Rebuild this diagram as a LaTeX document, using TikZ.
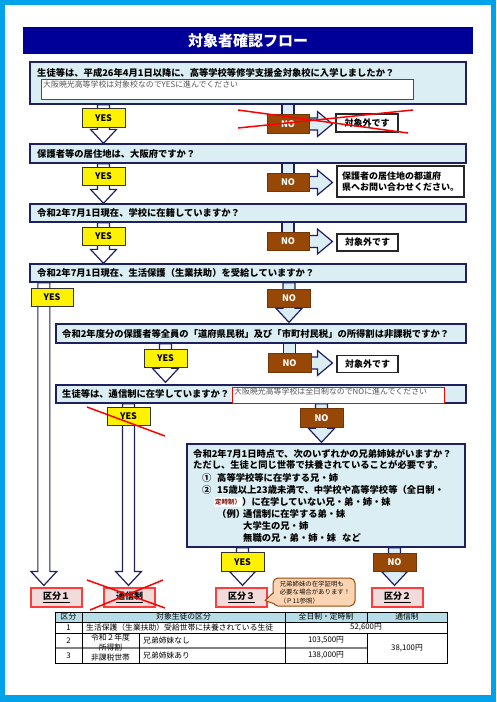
\documentclass[tikz,border=0pt]{standalone}
\usepackage{fontspec}
\setmainfont{Noto Sans CJK JP}
\usetikzlibrary{calc}
\definecolor{frameblue}{RGB}{0,162,232}
\definecolor{titleblue}{RGB}{0,0,153}
\definecolor{qfill}{RGB}{218,238,243}
\definecolor{navy}{RGB}{31,32,96}
\definecolor{nobrown}{RGB}{151,72,6}
\definecolor{kfill}{RGB}{242,220,219}
\definecolor{kred}{RGB}{255,60,60}
\definecolor{thfill}{RGB}{183,222,232}
\definecolor{callfill}{RGB}{251,212,180}
\definecolor{callline}{RGB}{152,72,6}
\definecolor{notegray}{RGB}{85,85,85}
\definecolor{smallred}{RGB}{130,40,30}
\pgfdeclarelayer{back}\pgfdeclarelayer{arrows}
\pgfsetlayers{back,arrows,main}
\newcommand\DownArr[3]{%
  \filldraw[blockarrow, fill=#3] let \p1=(#1), \p2=(#2) in
   (\x1-6pt,\y1) -- (\x1+6pt,\y1) -- (\x1+6pt,\y2+14pt) -- (\x1+13pt,\y2+14pt)
   -- (\x1,\y2) -- (\x1-13pt,\y2+14pt) -- (\x1-6pt,\y2+14pt) -- cycle;}
\newcommand\RightArr[2]{%
  \filldraw[blockarrow, fill=qfill] let \p1=(#1), \p2=(#2) in
   (\x1,\y1+6pt) -- (\x2-15pt,\y1+6pt) -- (\x2-15pt,\y1+12.5pt) -- (\x2,\y1)
   -- (\x2-15pt,\y1-12.5pt) -- (\x2-15pt,\y1-6pt) -- (\x1,\y1-6pt) -- cycle;}
\newcommand\Stub[2]{%
  \filldraw[blockarrow, fill=qfill] let \p1=(#1), \p2=(#2) in
   (\x1-6pt,\y1) rectangle (\x1+6pt,\y2);}
\begin{document}
\begin{tikzpicture}[x=1pt,y=-1pt,
  blockarrow/.style={draw=navy, line width=1.2pt, line join=miter},
  titlebox/.style={fill=titleblue, text=white, minimum width=450pt, minimum height=27pt, inner sep=0pt, font=\bfseries\fontsize{15}{17}\selectfont},
  qbox/.style={draw=navy, line width=1.3pt, fill=qfill, inner sep=0pt},
  qtext/.style={inner sep=0pt, font=\bfseries\fontsize{9.3}{11}\selectfont},
  q7text/.style={inner sep=0pt, anchor=west, font=\bfseries\fontsize{9.3}{11}\selectfont},
  notebox/.style={draw=red, line width=0.8pt, fill=white, inner sep=0pt},
  notetext/.style={inner sep=0pt, text=notegray, font=\fontsize{7.9}{9}\selectfont},
  yesbox/.style={draw=black!80, line width=1pt, fill=yellow, minimum width=43pt, minimum height=18.5pt, inner sep=0pt, font=\bfseries\fontsize{9}{10}\selectfont},
  nobox/.style={draw=nobrown!75!black, line width=0.8pt, fill=nobrown, text=white, minimum width=42pt, minimum height=18.5pt, inner sep=0pt, font=\bfseries\fontsize{9}{10}\selectfont},
  resbox/.style={draw=black!85, line width=1.1pt, fill=white, inner sep=0pt, font=\bfseries\fontsize{9}{11}\selectfont},
  kbox/.style={draw=kred, line width=1.2pt, fill=kfill, minimum width=51pt, minimum height=19pt, inner sep=0pt, font=\bfseries\fontsize{9}{10}\selectfont},
  redx/.style={red, line width=1.5pt},
  tcell/.style={inner sep=0pt, font=\fontsize{7.8}{9}\selectfont},
]
\useasboundingbox (0,0) rectangle (496,702);
\begin{pgfonlayer}{back}
  \fill[frameblue] (0,0) rectangle (496,702);
  \fill[white] (5,5) rectangle (491,695);
\end{pgfonlayer}

% title
\node[titlebox] (title) at (248,40.5) {対象者確認フロー};

% Q1
\node[qbox, minimum width=436pt, minimum height=42pt] (q1) at (248,83) {};
\node[qtext, anchor=west] (q1t) at (37,72.5) {生徒等は、平成26年4月1日以降に、高等学校等修学支援金対象校に入学しましたか？};
\node[notebox, minimum width=372pt, minimum height=20pt] (n1) at (227,89) {};
\node[notetext, anchor=north west] (n1t) at (43,80.5) {大阪暁光高等学校は対象校なのでYESに進んでください};
\node[yesbox] (yes1) at (103.5,118) {YES};
\node[nobox] (no1) at (288,124) {NO};
\node[resbox, minimum width=62pt, minimum height=18pt] (r1) at (367,123) {対象外です};

% Q2
\node[qbox, minimum width=436pt, minimum height=19pt] (q2) at (248,153.5) {};
\node[qtext, anchor=west] (q2t) at (37,153.5) {保護者等の居住地は、大阪府ですか？};
\node[yesbox] (yes2) at (103.5,176.5) {YES};
\node[nobox] (no2) at (288,182.5) {NO};
\node[resbox, minimum width=127pt, minimum height=31pt, align=left] (r2) at (400.5,181.5) {保護者の居住地の都道府\\県へお問い合わせください。};

% Q3
\node[qbox, minimum width=436pt, minimum height=18pt] (q3) at (248,213) {};
\node[qtext, anchor=west] (q3t) at (37,213) {令和2年7月1日現在、学校に在籍していますか？};
\node[yesbox] (yes3) at (103.5,236.5) {YES};
\node[nobox] (no3) at (288,241.5) {NO};
\node[resbox, minimum width=61pt, minimum height=17pt] (r3) at (367.5,242.5) {対象外です};

% Q4
\node[qbox, minimum width=436pt, minimum height=18pt] (q4) at (248,273) {};
\node[qtext, anchor=west] (q4t) at (37,273) {令和2年7月1日現在、生活保護（生業扶助）を受給していますか？};
\coordinate (a4) at ($(q4.south west)+(14.5,0)$);
\node[yesbox, minimum width=42pt] (yes4) at (52,297.5) {YES};
\node[nobox, minimum width=43pt] (no4) at (289,298.5) {NO};

% Q5
\node[qbox, minimum width=410pt, minimum height=19pt] (q5) at (261,333.5) {};
\node[qtext, anchor=west] (q5t) at (62,333.5) {令和2年度分の保護者等全員の「道府県民税」及び「市町村民税」の所得割は非課税ですか？};
\node[yesbox] (yes5) at (165.5,358.5) {YES};
\node[nobox, minimum width=43pt] (no5) at (289.5,363) {NO};
\node[resbox, minimum width=61pt, minimum height=17pt] (r5) at (367.5,364) {対象外です};

% Q6
\node[qbox, minimum width=410pt, minimum height=18pt] (q6) at (261,394) {};
\node[qtext, anchor=west] (q6t) at (62,394) {生徒等は、通信制に在学していますか？};
\node[notebox, minimum width=212pt, minimum height=16pt] (n6) at (338,395) {};
\node[notetext, anchor=north west] (n6t) at (234,388) {大阪暁光高等学校は全日制なのでNOに進んでください};
\node[yesbox] (yes6) at (128.5,416.5) {YES};
\node[nobox, minimum width=43pt] (no6) at (321.5,418) {NO};

% Q7
\node[qbox, minimum width=278pt, minimum height=103pt] (q7) at (326,495.5) {};
\node[q7text] (t7a) at (193,454) {令和2年7月1日時点で、次のいずれかの兄弟姉妹がいますか？};
\node[q7text] (t7b) at (193,465) {ただし、生徒と同じ世帯で扶養されていることが必要です。};
\node[q7text] (t7c1) at (202,478) {①};
\node[q7text] (t7c) at (217,478) {高等学校等に在学する兄・姉};
\node[q7text] (t7d1) at (202,490) {②};
\node[q7text] (t7d) at (217,490) {15歳以上23歳未満で、中学校や高等学校等（全日制・};
\node[q7text, fill=white, text=smallred, font=\bfseries\fontsize{6.5}{7}\selectfont, inner xsep=1pt, inner ysep=1.5pt] (t7e1) at (214,502) {定時制）};
\node[q7text] (t7e) at (242,502) {）に在学していない兄・弟・姉・妹};
\node[q7text] (t7f1) at (217,513.5) {（例）};
\node[q7text] (t7f) at (243,513.5) {通信制に在学する弟・妹};
\node[q7text] (t7g) at (243,525.5) {大学生の兄・姉};
\node[q7text] (t7h) at (243,537.5) {無職の兄・弟・姉・妹\hspace{6pt}など};
\node[yesbox] (yes7) at (242.5,562) {YES};
\node[nobox, minimum width=43pt] (no7) at (394.5,562.5) {NO};

% categories
\node[kbox] (k1) at (56.5,597.5) {\underline{区分１}};
\node[kbox] (kt) at (129.5,597.5) {\underline{通信制}};
\node[kbox] (k3) at (241.5,597.5) {\underline{区分３}};
\node[kbox] (k2) at (397.5,597.5) {\underline{区分２}};

% callout
\node[draw=callline, fill=callfill, rounded corners=5pt, line width=1pt, minimum width=82pt, minimum height=28pt, inner sep=0pt] (cb) at (314,592) {};
\fill[callfill] (275,593) -- (265,600.5) -- (275,603) -- cycle;
\draw[callline, line width=1pt, line join=round] (273.5,592.5) -- (265,600.5) -- (273.5,603.5);
\node[inner sep=0pt, align=left, text=black!85!callline, font=\fontsize{6.4}{8.4}\selectfont] (cbt) at (315,592.5) {兄弟姉妹の在学証明も\\必要な場合があります！\\（Ｐ11参照）};

% arrows (behind the boxes)
\begin{pgfonlayer}{arrows}
  \DownArr{q1.south -| yes1}{yes1 |- q2.north}{white}
  \DownArr{q2.south -| yes2}{yes2 |- q3.north}{white}
  \DownArr{q3.south -| yes3}{yes3 |- q4.north}{white}
  \DownArr{a4}{$(a4 |- k1.north)+(0,-2)$}{white}
  \DownArr{q4.south -| no4}{$(no4 |- q5.north)+(0,-1)$}{qfill}
  \DownArr{q5.south -| yes5}{$(yes5 |- q6.north)+(0,-2)$}{white}
  \DownArr{q6.south -| yes6}{$(yes6 |- kt.north)+(0,-2)$}{white}
  \DownArr{q6.south -| no6}{$(no6 |- q7.north)+(0,-1)$}{qfill}
  \DownArr{q7.south -| yes7}{$(yes7 |- k3.north)+(0,-2)$}{white}
  \DownArr{q7.south -| no7}{$(no7 |- k2.north)+(0,-2)$}{qfill}
  \Stub{q1.south -| no1}{no1.center}
  \Stub{q2.south -| no2}{no2.center}
  \Stub{q3.south -| no3}{no3.center}
  \Stub{q5.south -| no5}{no5.center}
  \RightArr{no1.center}{$(r1.west)+(-3,0)$}
  \RightArr{no2.center}{$(r2.west)+(-4,0)$}
  \RightArr{no3.center}{$(r3.west)+(-4,0)$}
  \RightArr{no5.center}{$(r5.west)+(-4,0)$}
\end{pgfonlayer}

% table
\fill[thfill] (55,612) rectangle (447,622);
\draw[gray, line width=1.3pt] (55,648) -- (367,648);
\draw[black, line width=0.9pt] (55,612) rectangle (447,663);
\draw[black, line width=0.9pt] (55,622) -- (447,622) (55,633) -- (447,633);
\draw[black, line width=0.9pt] (82,612) -- (82,663) (285,612) -- (285,663) (139,633) -- (139,663)
  (367,612) -- (367,622) (367,633) -- (367,663);
\node[tcell] (h1) at (68.5,617) {区分};
\node[tcell] (h2) at (183.5,617) {対象生徒の区分};
\node[tcell] (h3) at (326,617) {全日制・定時制};
\node[tcell] (h4) at (407,617) {通信制};
\node[tcell] (c11) at (68.5,627.5) {1};
\node[tcell, anchor=west] (c12) at (86,627.5) {生活保護（生業扶助）受給世帯に扶養されている生徒};
\node[tcell] (c13) at (366,627.5) {52,600円};
\node[tcell] (c21) at (68.5,640.5) {2};
\node[tcell] (c22a) at (110.5,638) {令和２年度};
\node[tcell] (c22b) at (110.5,648) {所得割};
\node[tcell] (c22c) at (110.5,658) {非課税世帯};
\node[tcell, anchor=west] (c23) at (143,640.5) {兄弟姉妹なし};
\node[tcell] (c24) at (326,640.5) {103,500円};
\node[tcell] (c25) at (407,648) {38,100円};
\node[tcell] (c31) at (68.5,655.5) {3};
\node[tcell, anchor=west] (c33) at (143,655.5) {兄弟姉妹あり};
\node[tcell] (c34) at (326,655.5) {138,000円};

% red crosses
\draw[redx] (238,110) -- (408,133);
\draw[redx] (238,128) -- (413,110);
\draw[redx] (87,407) -- (165,436);
\draw[redx] (87,580) -- (165,608);
\draw[redx] (90,610) -- (163,580);
\end{tikzpicture}
\end{document}
